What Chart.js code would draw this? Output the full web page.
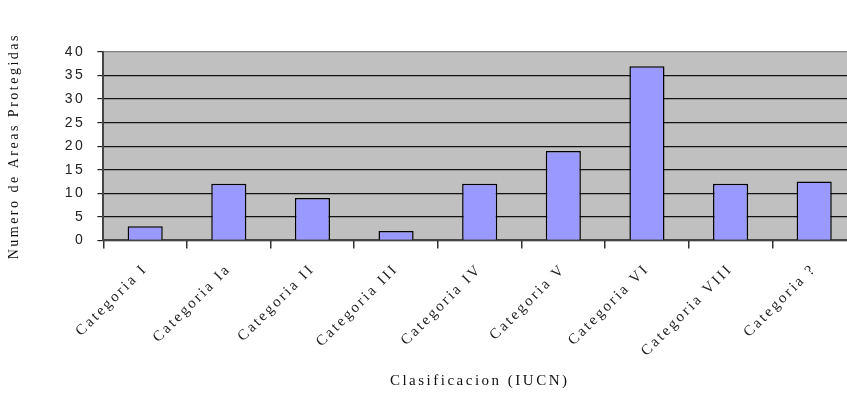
<!DOCTYPE html>
<html>
<head>
<meta charset="utf-8">
<script src="https://cdn.jsdelivr.net/npm/chart.js@4.4.1/dist/chart.umd.min.js"></script>
<style>
  html, body { margin: 0; padding: 0; background: #fff; overflow: hidden; }
  #wrap { width: 856px; height: 408px; }
</style>
</head>
<body>
<div id="wrap"><canvas id="areasChart"></canvas></div>
<script>
// categorias IUCN y numero de areas
const categorias = ['Categoria I', 'Categoria Ia', 'Categoria II', 'Categoria III', 'Categoria IV',
  'Categoria V', 'Categoria VI', 'Categoria VIII', 'Categoria ?'];
const numeroAreas = [3, 12, 9, 2, 12, 19, 37, 12, 12.5];
const yTicks = [0, 5, 10, 15, 20, 25, 30, 35, 40];

const spacing = '2.5px';

// fondo gris del area de trazado + espaciado de letras
const plotBg = {
  id: 'plotBg',
  beforeUpdate(chart) { chart.ctx.letterSpacing = spacing; },
  beforeLayout(chart) { chart.ctx.letterSpacing = spacing; },
  beforeDraw(chart) {
    const { ctx, chartArea } = chart;
    ctx.letterSpacing = spacing;
    ctx.save();
    ctx.fillStyle = '#c0c0c0';
    ctx.fillRect(chartArea.left, chartArea.top, chartArea.right - chartArea.left, chartArea.bottom - chartArea.top);
    ctx.restore();
  }
};

const serif = "'Liberation Serif', 'Times New Roman', serif";

new Chart(document.getElementById('areasChart'), {
  type: 'bar',
  data: {
    labels: categorias,
    datasets: [{
      data: numeroAreas,
      backgroundColor: '#9999ff',
      borderColor: '#000',
      borderWidth: 1.5,
      borderSkipped: 'bottom',
      categoryPercentage: 1,
      barPercentage: 0.42
    }]
  },
  options: {
    responsive: true,
    maintainAspectRatio: false,
    animation: false,
    layout: { padding: { top: 52, bottom: 18, left: 6, right: 0 } },
    plugins: { legend: { display: false }, tooltip: { enabled: false } },
    scales: {
      x: {
        grid: { drawOnChartArea: false, offset: true, tickLength: 8, color: '#333', lineWidth: 1.5 },
        border: { color: '#444', width: 2 },
        ticks: {
          minRotation: 45, maxRotation: 45, autoSkip: false, padding: 12,
          color: '#222', font: { family: serif, size: 15 }
        },
        title: {
          display: true, text: 'Clasificacion (IUCN)', color: '#111',
          font: { family: serif, size: 15 }, padding: { top: 0, bottom: 0 }
        }
      },
      y: {
        min: 0, max: 40,
        afterBuildTicks(scale) { scale.ticks = yTicks.map(v => ({ value: v })); },
        grid: {
          color: ctx => ctx.tick && ctx.tick.value === 40 ? '#808080' : '#111',
          tickColor: '#222', tickLength: 6, lineWidth: 1.2
        },
        border: { color: '#444', width: 2 },
        ticks: { color: '#222', padding: 12, font: { family: "'Liberation Sans', Arial, sans-serif", size: 14 } },
        title: {
          display: true, text: 'Numero de Areas Protegidas', color: '#111',
          font: { family: serif, size: 14 }, padding: { top: 0, bottom: 30 }
        }
      }
    }
  },
  plugins: [plotBg]
});
</script>
</body>
</html>
